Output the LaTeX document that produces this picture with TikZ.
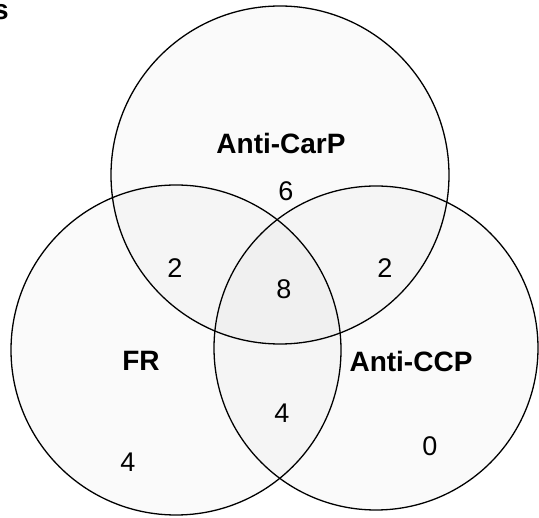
\documentclass[tikz,border=0pt]{standalone}
\usepackage{fontspec}
\setmainfont{Liberation Sans}
\begin{document}
\begin{tikzpicture}[x=1pt,y=-1pt,
  setc/.style={draw=black,line width=1.3pt,fill=black,fill opacity=0.02},
  lab/.style={font=\fontsize{28}{31}\selectfont\bfseries,text=black,inner sep=0pt},
  num/.style={font=\fontsize{27}{30}\selectfont,text=black,inner sep=0pt}]
\useasboundingbox (0,0) rectangle (539,518);
\path[setc] (280,175) circle (169);
\path[setc] (176,350) circle (165);
\path[setc] (376,348) circle (162);
\node[lab] (carp) at (281,143) {Anti-CarP};
\node[lab] (fr) at (141,361) {FR};
\node[lab] (ccp) at (411,361) {Anti-CCP};
\node[lab,anchor=west] (s) at (-7,12) {s};
\node[num] (n6) at (286,191) {6};
\node[num] (n2a) at (175,268) {2};
\node[num] (n8) at (284,289) {8};
\node[num] (n2b) at (385,268) {2};
\node[num] (n4a) at (282,413) {4};
\node[num] (n0) at (430,446) {0};
\node[num] (n4b) at (128,462) {4};
\end{tikzpicture}
\end{document}
